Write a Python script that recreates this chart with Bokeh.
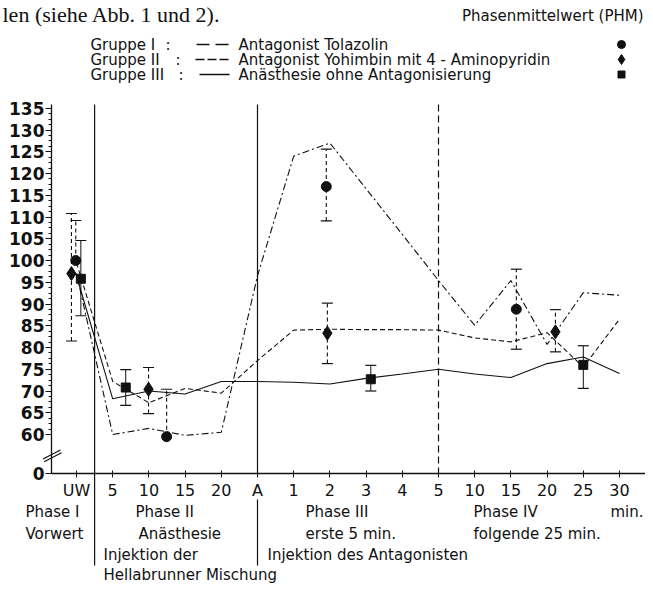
from bokeh.plotting import figure
from bokeh.models import FixedTicker, Label, LinearAxis
from bokeh.embed import file_html
from bokeh.resources import INLINE

# ---------------- data ----------------
x_labels = ["UW", "5", "10", "15", "20", "A", "1", "2", "3", "4", "5",
            "10", "15", "20", "25", "30"]
x_index = list(range(len(x_labels)))

# Gruppe I (Tolazolin) - dash-dot line
g1_line = [97.0, 60.0, 61.4, 59.8, 60.5, 96.5, 124.0, 127.0, 116.5, 106.0,
           95.4, 85.1, 95.4, 80.7, 92.6, 92.0]
# Gruppe II (Yohimbin + 4-Aminopyridin) - dashed line
g2_line = [99.5, 72.2, 67.3, 70.6, 69.5, 77.0, 84.0, 84.2, 84.1, 84.1,
           84.0, 82.2, 81.3, 83.4, 75.5, 86.5]
# Gruppe III (ohne Antagonisierung) - solid line
g3_line = [96.5, 68.2, 70.0, 69.3, 72.2, 72.2, 72.0, 71.6, 72.9, 73.9,
           75.0, 73.9, 73.1, 76.3, 77.8, 74.0]

# Phasenmittelwerte (PHM) with error bars
g1_pm_x = [-0.02, 2.49, 6.90, 12.15]
g1_pm_y = [100.0, 59.5, 117.0, 88.8]
g1_pm_hi = [109.2, 70.4, 125.6, 98.0]
g1_pm_lo = [None, None, 109.1, 79.6]

g2_pm_x = [-0.14, 1.99, 6.93, 13.23]
g2_pm_y = [97.0, 70.4, 83.3, 83.6]
g2_pm_hi = [110.8, 75.4, 90.2, 88.7]
g2_pm_lo = [81.5, 64.8, 76.3, 79.0]

g3_pm_x = [0.12, 1.36, 8.13, 14.0]
g3_pm_y = [95.8, 70.8, 72.7, 76.0]
g3_pm_hi = [104.6, 74.9, 75.9, 80.4]
g3_pm_lo = [87.3, 66.7, 70.0, 70.6]

y_ticks = list(range(60, 136, 5))
y_zero = 51.0           # where the broken axis shows "0"
phase_bounds = [0.5, 5, 10]

# ---------------- geometry (page pixels -> data) ----------------
W, H = 645, 586
PX0, PXS = 84.0, 36.2     # page x of index 0, pixels per index step
PY60, PYS = 442.0, 4.35   # page y of value 60, pixels per unit


def dx(px):
    return (px - PX0) / PXS


def dy(py):
    return 60 + (PY60 - py) / PYS


INK = "#111111"
FONT = "DejaVu Sans"
Y_TOP = dy(112)
X_LEFT = dx(59)

p = figure(width=W, height=H, x_range=(dx(8), dx(653)), y_range=(dy(594), dy(8)),
           output_backend="svg", toolbar_location=None, x_axis_type=None, y_axis_type=None,
           min_border=0)
p.outline_line_color = None
p.xgrid.visible = False
p.ygrid.visible = False
p.background_fill_color = "white"
p.border_fill_color = "white"

# y axis (broken: 0, then 60 ... 135)
yaxis = LinearAxis(fixed_location=X_LEFT, bounds=(y_zero, Y_TOP),
                   ticker=FixedTicker(ticks=[y_zero] + y_ticks,
                                      minor_ticks=[60 + 1.25 * k for k in range(61)]))
yaxis.major_label_overrides = {y_zero: "0"}
yaxis.axis_line_width = 1.3
yaxis.axis_line_color = INK
yaxis.major_tick_line_color = INK
yaxis.minor_tick_line_color = INK
yaxis.major_tick_out = 6
yaxis.major_tick_in = 0
yaxis.minor_tick_out = 3
yaxis.minor_tick_in = 0
yaxis.major_label_standoff = 1
yaxis.major_label_text_font = FONT
yaxis.major_label_text_font_style = "bold"
yaxis.major_label_text_font_size = "17px"
yaxis.major_label_text_color = INK
p.add_layout(yaxis, "left")

# x axis
xaxis = LinearAxis(fixed_location=y_zero, bounds=(X_LEFT, dx(653)),
                   ticker=FixedTicker(ticks=x_index, minor_ticks=[]))
xaxis.major_label_overrides = {i: s for i, s in zip(x_index, x_labels)}
xaxis.axis_line_width = 1.3
xaxis.axis_line_color = INK
xaxis.major_tick_line_color = INK
xaxis.minor_tick_line_color = None
xaxis.major_tick_out = 4
xaxis.major_tick_in = 3
xaxis.major_label_standoff = 3
xaxis.major_label_text_font = FONT
xaxis.major_label_text_font_size = "16px"
xaxis.major_label_text_color = INK
p.add_layout(xaxis, "below")

# phase separators (inside plot + down through the caption area)
p.segment(x0=phase_bounds[:2], y0=[Y_TOP] * 2, x1=phase_bounds[:2], y1=[y_zero] * 2,
          line_color=INK, line_width=1.2)
p.segment(x0=[phase_bounds[2]], y0=[Y_TOP], x1=[phase_bounds[2]], y1=[y_zero],
          line_color=INK, line_width=1.2, line_dash="7 4")
p.segment(x0=phase_bounds[:2], y0=[y_zero, dy(507)], x1=phase_bounds[:2], y1=[dy(573), dy(573)],
          line_color=INK, line_width=1.2)

# axis break marks
p.segment(x0=[dx(50.5), dx(51.6)], y0=[dy(466.5), dy(469.3)],
          x1=[dx(68.0), dx(69.1)], y1=[dy(457.5), dy(460.3)],
          line_color=INK, line_width=1.2)

# series lines
p.line(x_index, g1_line, line_color=INK, line_width=1.1, line_dash="7 3 2 3")
p.line(x_index, g2_line, line_color=INK, line_width=1.1, line_dash="5 3")
p.line(x_index, g3_line, line_color=INK, line_width=1.1)


def error_bars(xs, ys, his, los, dash):
    x0, y0, y1, cx, cy = [], [], [], [], []
    for x, y, hi, lo in zip(xs, ys, his, los):
        x0.append(x)
        y0.append(lo if lo is not None else y)
        y1.append(hi)
        cx.append(x)
        cy.append(hi)
        if lo is not None:
            cx.append(x)
            cy.append(lo)
    if dash:
        p.segment(x0=x0, y0=y0, x1=x0, y1=y1, line_color=INK, line_width=1.1, line_dash=dash)
    else:
        p.segment(x0=x0, y0=y0, x1=x0, y1=y1, line_color=INK, line_width=1.0)
    p.scatter(cx, cy, marker="dash", size=11, line_color=INK, line_width=1.2)


error_bars(g1_pm_x, g1_pm_y, g1_pm_hi, g1_pm_lo, "4 3")
error_bars(g2_pm_x, g2_pm_y, g2_pm_hi, g2_pm_lo, "4 3")
error_bars(g3_pm_x, g3_pm_y, g3_pm_hi, g3_pm_lo, None)

p.scatter(g1_pm_x, g1_pm_y, marker="circle", size=10, fill_color=INK, line_color=INK)
p.scatter(g2_pm_x, g2_pm_y, marker="diamond", size=14, fill_color=INK, line_color=INK)
p.scatter(g3_pm_x, g3_pm_y, marker="square", size=9, fill_color=INK, line_color=INK)


def text(px, py, s, size="15px", align="left", font=FONT, baseline="middle", style="normal"):
    p.add_layout(Label(x=dx(px), y=dy(py), text=s, text_font=font, text_font_size=size,
                       text_align=align, text_baseline=baseline, text_color=INK,
                       text_font_style=style))


# running text of the page above the figure
text(10, 9, "len (siehe Abb. 1 und 2).", size="22px", font="Liberation Serif", baseline="top")
text(651, 23, "Phasenmittelwert (PHM)", align="right")

# legend
rows = [52, 67, 82]
groups = ["Gruppe I", "Gruppe II", "Gruppe III"]
colons = [173, 183, 186]
names = ["Antagonist Tolazolin", "Antagonist Yohimbin mit 4 - Aminopyridin",
         "Anästhesie ohne Antagonisierung"]
sample_start = [204, 203, 207]
sample_end = [237, 237, 237]
dashes = ["13 6", "9 3", None]
markers = ["circle", "diamond", "square"]
msizes = [8, 10, 7]
for r, g, c, n, s0, s1, d in zip(rows, groups, colons, names, sample_start, sample_end, dashes):
    text(98, r, g)
    text(c, r, ":")
    text(246, r, n)
    if d:
        p.segment(x0=[dx(s0)], y0=[dy(r)], x1=[dx(s1)], y1=[dy(r)],
                  line_color=INK, line_width=1.3, line_dash=d)
    else:
        p.segment(x0=[dx(s0)], y0=[dy(r)], x1=[dx(s1)], y1=[dy(r)],
                  line_color=INK, line_width=1.3)
p.scatter([dx(629)] * 3, [dy(r) for r in rows], marker=markers, size=msizes,
          fill_color=INK, line_color=INK)

# phase captions below the axis
text(33, 519, "Phase I")
text(33, 541, "Vorwert")
text(143, 519, "Phase II")
text(146, 541, "Anästhesie")
text(111, 562, "Injektion der")
text(111, 582, "Hellabrunner Mischung")
text(313, 519, "Phase III")
text(313, 541, "erste 5 min.")
text(275, 562, "Injektion des Antagonisten")
text(481, 519, "Phase IV")
text(481, 541, "folgende 25 min.")
text(651, 519, "min.", align="right")

open("out.html", "w").write(file_html(p, INLINE))
